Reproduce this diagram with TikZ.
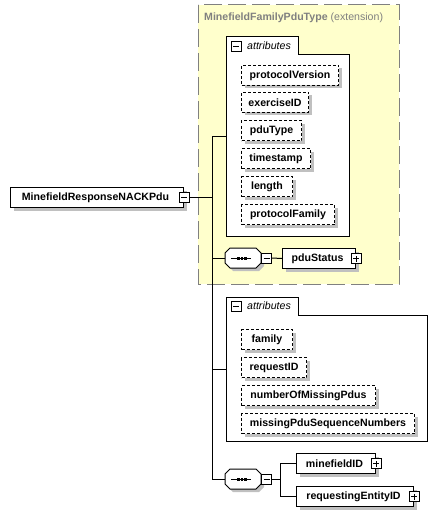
\documentclass[tikz,border=0pt]{standalone}
\usepackage{fontspec}
\setmainfont{Liberation Sans}
\usetikzlibrary{shadows,calc}
\definecolor{yel}{RGB}{255,255,204}
\definecolor{shd}{RGB}{192,192,192}
\definecolor{dgray}{RGB}{128,128,128}
\tikzset{
  fnt/.style={font=\fontsize{10.6}{12}\selectfont\bfseries},
  shad/.style={drop shadow={shadow xshift=3pt, shadow yshift=-3pt, fill=shd, opacity=1}},
  elem/.style={fnt, draw, fill=white, line width=1pt, rectangle, minimum height=20pt, inner sep=0pt, anchor=north west, shad},
  attr/.style={fnt, draw, dash pattern=on 3pt off 2pt, line width=1pt, fill=white, minimum height=20pt, inner sep=0pt, anchor=north west, shad},
  pm/.style={draw, fill=white, line width=0.8pt, minimum size=10pt, inner sep=0pt},
  minusbox/.style={pm, path picture={\draw[line width=0.8pt] ([xshift=2pt]path picture bounding box.west) -- ([xshift=-2pt]path picture bounding box.east);}},
  plusbox/.style={pm, path picture={\draw[line width=0.8pt] ([xshift=2pt]path picture bounding box.west) -- ([xshift=-2pt]path picture bounding box.east);
      \draw[line width=0.8pt] ([yshift=2pt]path picture bounding box.south) -- ([yshift=-2pt]path picture bounding box.north);}},
  conn/.style={line width=1pt, black},
  container/.style={draw, fill=white, line width=1pt},
  tabtext/.style={font=\fontsize{10.6}{12}\selectfont\itshape, anchor=west, inner sep=0pt},
  seqpic/.pic={
    \fill[shd] (-15,-7) -- (16,-7) -- (21,-2) -- (21,8) -- (16,13) -- (-10,13) -- (-15,8) -- cycle;
    \draw[fill=white, line width=1pt] (-13,-10) -- (13,-10) -- (18,-5) -- (18,5) -- (13,10) -- (-13,10) -- (-18,5) -- (-18,-5) -- cycle;
    \draw[line width=1pt] (-12,0) -- (8,0);
    \fill (-6,-1.5) rectangle (-3.5,1.5);
    \fill (-2.5,-1.5) rectangle (0,1.5);
    \fill (1,-1.5) rectangle (3.5,1.5);
    \node[minimum width=36pt, minimum height=20pt, inner sep=0pt] (-box) at (0,0) {};
  }
}
\begin{document}
\begin{tikzpicture}[x=1pt, y=-1pt]
\useasboundingbox (0,0) rectangle (447,516);

% extension box
\draw[dgray, fill=yel, line width=1pt, dash pattern=on 18pt off 6pt] (198,5) rectangle (399,284);
\node[fnt, text=dgray, anchor=west, inner sep=0pt] (title) at (204,18) {MinefieldFamilyPduType {\normalfont (extension)}};

% attributes container 1
\draw[container] (226,37) -- (298,37) -- (298,55) -- (349,55) -- (349,236) -- (226,236) -- cycle;
\node[minusbox] (a1pm) at (236,46) {};
\node[tabtext] (a1t) at (247,46) {attributes};
\coordinate (attr1) at (226,136);

\node[attr, minimum width=97pt] (protocolVersion) at (241,65) {protocolVersion};
\node[attr, minimum width=67pt] (exerciseID) at (241,92) {exerciseID};
\node[attr, minimum width=60pt] (pduType) at (241,120) {pduType};
\node[attr, minimum width=69pt] (timestamp) at (241,148) {timestamp};
\node[attr, minimum width=51pt] (length) at (241,176) {length};
\node[attr, minimum width=93pt] (protocolFamily) at (241,204) {protocolFamily};

% sequence 1
\pic (seq1) at (243,258) {seqpic};
\node[minusbox, anchor=west] (seq1pm) at (seq1-box.east) {};
\node[elem, minimum width=73pt] (pduStatus) at (282,248) {pduStatus\hspace*{3pt}};
\node[plusbox] (pduStatuspm) at (pduStatus.east) {};

% main element
\node[elem, minimum width=173pt] (main) at (10,187) {MinefieldResponseNACKPdu\hspace*{3pt}};
\node[minusbox] (mainpm) at (main.east) {};

% attributes container 2
\draw[container] (226,297) -- (298,297) -- (298,315) -- (427,315) -- (427,441) -- (226,441) -- cycle;
\node[minusbox] (a2pm) at (236,306) {};
\node[tabtext] (a2t) at (247,306) {attributes};
\coordinate (attr2) at (226,369);

\node[attr, minimum width=51pt] (family) at (241,329) {family};
\node[attr, minimum width=65pt] (requestID) at (241,357) {requestID};
\node[attr, minimum width=134pt] (numberOfMissingPdus) at (241,385) {numberOfMissingPdus};
\node[attr, minimum width=173pt] (missingPduSequenceNumbers) at (241,413) {missingPduSequenceNumbers};

% sequence 2
\pic (seq2) at (243,479) {seqpic};
\node[minusbox, anchor=west] (seq2pm) at (seq2-box.east) {};
\node[elem, minimum width=79pt] (minefieldID) at (296,453) {minefieldID\hspace*{3pt}};
\node[plusbox] (minefieldIDpm) at (minefieldID.east) {};
\node[elem, minimum width=117pt] (requestingEntityID) at (296,486) {requestingEntityID\hspace*{3pt}};
\node[plusbox] (requestingEntityIDpm) at (requestingEntityID.east) {};

% trunk
\coordinate (t1) at (212,136);
\coordinate (t4) at (212,479);
\draw[conn] (mainpm.east) -- (mainpm.east -| t1);
\draw[conn] (t1) -- (t4);
\draw[conn] (t1) -- (attr1);
\draw[conn] (seq1-box.west -| t1) -- (seq1-box.west);
\draw[conn] (attr2 -| t1) -- (attr2);
\draw[conn] (t4) -- (seq2-box.west);
\draw[conn] (seq1pm.east) -- (pduStatus.west);

% branch
\coordinate (br) at (280,479);
\draw[conn] (seq2pm.east) -- (br);
\draw[conn] (minefieldID.west) -- (minefieldID.west -| br) -- (requestingEntityID.west -| br) -- (requestingEntityID.west);
\end{tikzpicture}
\end{document}
